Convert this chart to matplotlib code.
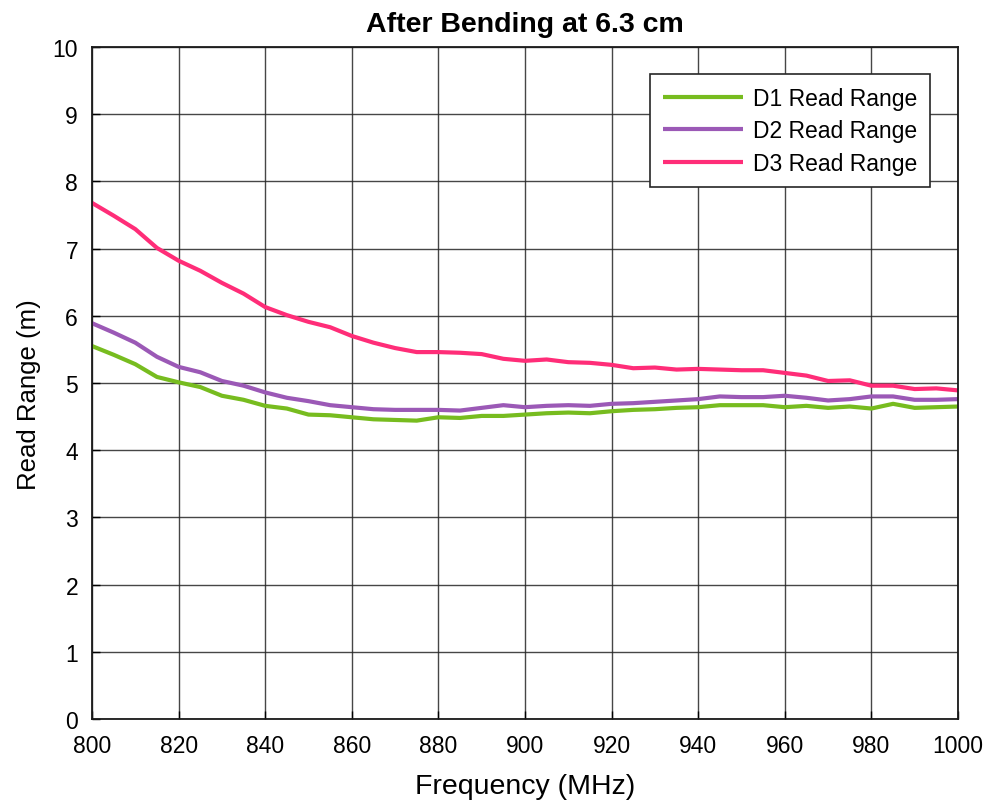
import matplotlib
matplotlib.use("Agg")
import matplotlib.pyplot as plt
import numpy as np

plt.rcParams['font.family'] = ['Liberation Sans', 'DejaVu Sans']

freq = list(range(800, 1001, 5))
d1 = [5.55, 5.42, 5.28, 5.09, 5.01, 4.94, 4.81, 4.75, 4.66, 4.62, 4.53, 4.52, 4.49, 4.46, 4.45, 4.44,
      4.49, 4.48, 4.51, 4.51, 4.53, 4.55, 4.56, 4.55, 4.58, 4.60, 4.61, 4.63, 4.64, 4.67, 4.67, 4.67,
      4.64, 4.66, 4.63, 4.65, 4.62, 4.69, 4.63, 4.64, 4.65]
d2 = [5.89, 5.75, 5.60, 5.39, 5.24, 5.16, 5.03, 4.96, 4.86, 4.78, 4.73, 4.67, 4.64, 4.61, 4.60, 4.60,
      4.60, 4.59, 4.63, 4.67, 4.64, 4.66, 4.67, 4.66, 4.69, 4.70, 4.72, 4.74, 4.76, 4.80, 4.79, 4.79,
      4.81, 4.78, 4.74, 4.76, 4.80, 4.80, 4.75, 4.75, 4.76]
d3 = [7.68, 7.49, 7.29, 7.01, 6.82, 6.67, 6.49, 6.33, 6.13, 6.01, 5.91, 5.83, 5.70, 5.60, 5.52, 5.46,
      5.46, 5.45, 5.43, 5.36, 5.33, 5.35, 5.31, 5.30, 5.27, 5.22, 5.23, 5.20, 5.21, 5.20, 5.19, 5.19,
      5.15, 5.11, 5.03, 5.04, 4.96, 4.96, 4.91, 4.92, 4.89]
labels = ['D1 Read Range', 'D2 Read Range', 'D3 Read Range']
colors = ['#77BC1F', '#9B59B6', '#FF2D78']

W, H = 992, 803
fig = plt.figure(figsize=(W / 100, H / 100), dpi=100)
ax = fig.add_axes([92 / W, 83 / H, 866 / W, 672 / H])

for ys, lab, c in zip([d1, d2, d3], labels, colors):
    ax.plot(freq, ys, color=c, lw=3.0, label=lab, solid_capstyle='butt')

ax.set_xlim(800, 1000)
ax.set_ylim(0, 10)
ax.set_xticks(np.arange(800, 1001, 20))
ax.set_yticks(np.arange(0, 11, 1))
ax.grid(True, color='#262626', lw=1.0, alpha=0.85)
ax.set_axisbelow(True)
ax.tick_params(labelsize=16.5, direction='in', length=6, width=1, top=False, right=False)
ax.tick_params(axis='x', pad=10.5)
ax.tick_params(axis='y', pad=10)
for s in ax.spines.values():
    s.set_linewidth(1.3)
    s.set_color('#1a1a1a')

ax.set_xlabel('Frequency (MHz)', fontsize=20.5, va='center', ha='center')
ax.xaxis.set_label_coords(0.5, (720 - 787) / 672)
ax.set_ylabel('Read Range (m)', fontsize=18.5, va='center', ha='center')
ax.yaxis.set_label_coords((29 - 92) / 866, (720 - 395) / 672)

ax.text(0.5, (720 - 25) / 672, 'After Bending at 6.3 cm', transform=ax.transAxes,
        fontsize=20.5, fontweight='bold', ha='center', va='center')

leg = ax.legend(loc='upper right', bbox_to_anchor=(0.9677, 0.9598), borderaxespad=0,
                fontsize=16.5, fancybox=False, framealpha=1, edgecolor='#262626',
                handlelength=3.5, labelspacing=0.42, handletextpad=0.45, borderpad=0.55)
leg.get_frame().set_linewidth(1.2)

fig.savefig('out.png', dpi=100)
